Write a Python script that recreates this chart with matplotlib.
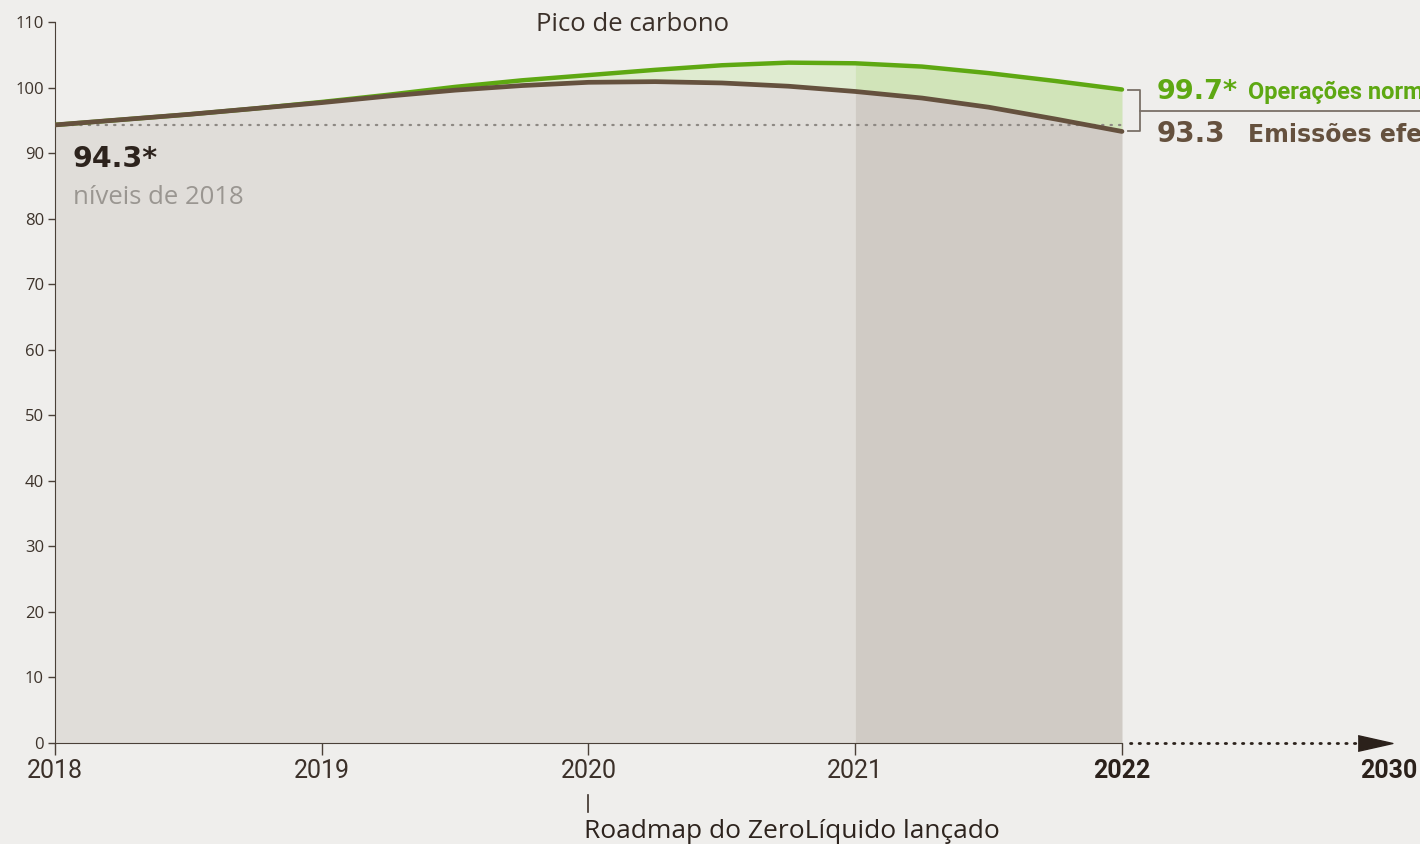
import matplotlib
matplotlib.use("Agg")
import matplotlib.pyplot as plt
from matplotlib.transforms import blended_transform_factory

# data (quarter-year points)
years = [2018, 2018.25, 2018.5, 2018.75, 2019, 2019.25, 2019.5, 2019.75, 2020,
         2020.25, 2020.5, 2020.75, 2021, 2021.25, 2021.5, 2021.75, 2022]
emissions = [94.3, 95.1, 95.9, 96.8, 97.7, 98.7, 99.6, 100.3, 100.8,
             100.9, 100.7, 100.2, 99.4, 98.4, 97.0, 95.2, 93.3]
normalized = [94.3, 95.1, 95.9, 96.8, 97.8, 98.9, 100.1, 101.1, 101.9,
              102.7, 103.4, 103.8, 103.7, 103.2, 102.2, 101.0, 99.7]
baseline = 94.3
year_labels = ["2018", "2019", "2020", "2021", "2022", "2030"]
y_ticks = [0, 10, 20, 30, 40, 50, 60, 70, 80, 90, 100, 110]

BG = "#efeeec"
GREEN = "#5ea812"
BROWN = "#65513e"
NARROW = ["Roboto", "DejaVu Sans"]
plt.rcParams["font.family"] = ["Open Sans", "DejaVu Sans"]

fig = plt.figure(figsize=(14.2, 8.44), dpi=100, facecolor=BG)
ax = fig.add_axes([55 / 1420, 101 / 844, 1365 / 1420, 721 / 844])
ax.set_facecolor(BG)
ax.set_xlim(2018, 2018 + 1365 / 266.75)
ax.set_ylim(0, 110)

# split at 2021 for the darker last-year shading
i21 = years.index(2021)
ax.fill_between(years[:i21 + 1], 0, emissions[:i21 + 1], color="#e0ddd9", lw=0)
ax.fill_between(years[i21:], 0, emissions[i21:], color="#d0cbc5", lw=0)
ax.fill_between(years[:i21 + 1], emissions[:i21 + 1], normalized[:i21 + 1],
                color="#dfebd0", lw=0)
ax.fill_between(years[i21:], emissions[i21:], normalized[i21:], color="#d1e4b9", lw=0)

ax.plot([years[0], years[-1]], [baseline, baseline], color="#8d8883", lw=1.6,
        linestyle=(0, (0.6, 3.2)), dash_capstyle="round", zorder=3)
ax.plot(years, normalized, color=GREEN, lw=3.2, solid_capstyle="round", zorder=4)
ax.plot(years, emissions, color=BROWN, lw=3.4, solid_capstyle="round", zorder=5)

# axes styling
for s in ["top", "right"]:
    ax.spines[s].set_visible(False)
ax.spines["left"].set_color("#4a4038")
ax.spines["bottom"].set_color("#4a4038")
ax.spines["bottom"].set_bounds(2018, 2022)
ax.set_yticks(y_ticks)
ax.set_yticklabels([str(v) for v in y_ticks])
ax.tick_params(axis="y", length=5, width=1, color="#4a4038", pad=3,
               labelsize=12, labelcolor="#3d332b")
x_pos = [2018, 2019, 2020, 2021, 2022, 2023]
ax.set_xticks(x_pos)
ax.set_xticklabels(year_labels)
ax.tick_params(axis="x", length=8.5, width=1, color="#4a4038", pad=3,
               labelsize=18, labelcolor="#3b3029")
for i, lab in enumerate(ax.get_xticklabels()):
    lab.set_family(NARROW)
    if i >= 4:
        lab.set_fontweight("bold")
        lab.set_color("#2b211b")
ax.xaxis.get_major_ticks()[-1].tick1line.set_visible(False)

# dotted extension to 2030 with arrow head
ax.plot([2022.03, 2022.88], [0, 0], color="#2b211b", lw=2,
        linestyle=(0, (0.5, 2.6)), dash_capstyle="round", clip_on=False)
ax.plot([2022.95], [0], marker=[(-1, -0.45), (1, 0), (-1, 0.45)], markersize=25,
        color="#2b211b", clip_on=False)

# annotations
ax.text(2018.067, 87.9, "94.3*", fontsize=20.5, fontweight="bold", color="#2d231d",
        family=["DejaVu Sans"])
ax.text(2018.067, 82.2, "níveis de 2018", fontsize=18.5, color="#9a9691")
ax.text(2020.167, 108.6, "Pico de carbono", fontsize=18.5, color="#3b3029", ha="center")

# bracket + right labels
bx0, bx1 = 2022.022, 2022.067
ax.plot([bx0, bx1, bx1, bx0], [normalized[-1], normalized[-1], emissions[-1], emissions[-1]],
        color="#7a7068", lw=1.3, clip_on=False)
ax.plot([bx1, 2023.2], [96.4, 96.4], color="#7a7068", lw=1.3, clip_on=False)
ax.text(2022.131, 98.2, "99.7*", fontsize=19.5, fontweight="bold", color=GREEN,
        family=["DejaVu Sans"], clip_on=False)
ax.text(2022.472, 98.2, "Operações normalizadas", fontsize=17, fontweight="bold",
        color=GREEN, family=NARROW, clip_on=False)
ax.text(2022.131, 91.7, "93.3", fontsize=20, fontweight="bold", color=BROWN,
        family=["DejaVu Sans"], clip_on=False)
ax.text(2022.472, 91.7, "Emissões efetivas", fontsize=17, fontweight="bold",
        color=BROWN, family=["DejaVu Sans"], clip_on=False)

# roadmap marker below the axis
tr = blended_transform_factory(ax.transData, fig.transFigure)
ax.plot([2020, 2020], [1 - 795 / 844, 1 - 812 / 844], color="#3b3029", lw=1.2,
        transform=tr, clip_on=False)
fig.text(584 / 1420, 1 - 838 / 844, "Roadmap do ZeroLíquido lançado", fontsize=19,
         color="#2d231d")

fig.savefig("out.png", dpi=100, facecolor=BG)
